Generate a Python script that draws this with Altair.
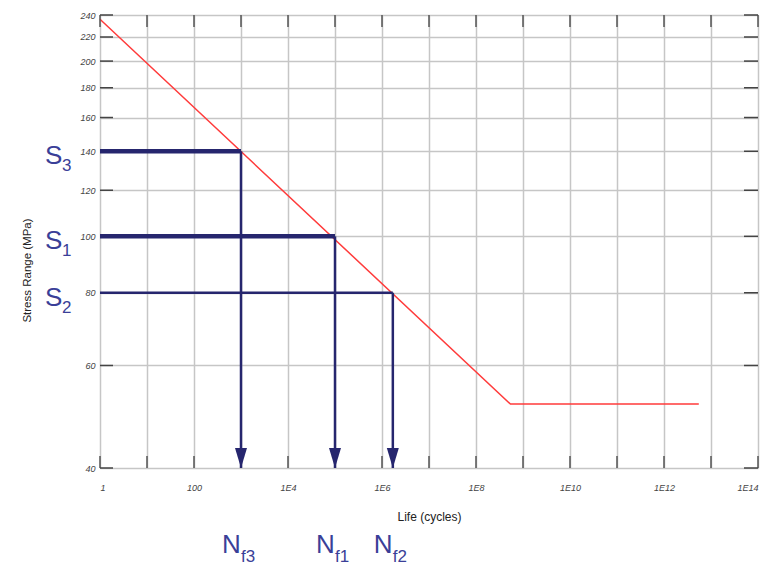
import altair as alt
import pandas as pd

# ---- data ----
curve_life = [1, 5.4e8, 5.5e12]
curve_stress = [236, 51.5, 51.5]

level_names = ["3", "1", "2"]
level_stress = [140, 100, 80]
level_life = [1000, 1.0e5, 1.7e6]
level_width = [4.5, 4.5, 2.5]

x_decades = [10 ** k for k in range(0, 15)]
y_ticks = [40, 60, 80, 100, 120, 140, 160, 180, 200, 220, 240]

W, H = 658, 453
NAVY = "#26266e"
LBL = "#3a3f98"

curve = pd.DataFrame({"N": curve_life, "S": curve_stress})
levels = pd.DataFrame({
    "name": level_names, "S": level_stress, "N": level_life,
    "w": level_width, "N0": [1] * 3, "S0": [40] * 3,
    "Sname": ["S"] * 3, "Nname": ["N"] * 3, "fsub": ["f" + n for n in level_names],
})
xt = pd.DataFrame({"N": x_decades})
yt = pd.DataFrame({"S": y_ticks})

xscale = alt.Scale(type="log", domain=[1, 1e14], nice=False)
yscale = alt.Scale(type="log", domain=[40, 240], nice=False)

label_expr = ("datum.value == 1 ? '1' : datum.value == 100 ? '100' : "
              "(round(log(datum.value)/LN10) % 2 == 0 ? '1E' + round(log(datum.value)/LN10) : '')")

x_axis = alt.Axis(values=x_decades, labelExpr=label_expr, ticks=False, domain=False,
                  grid=True, gridColor="#c6c6c6", gridWidth=1.5,
                  labelFontSize=9, labelFontStyle="italic", labelColor="#444",
                  labelPadding=15, title="Life (cycles)", titleFontSize=12,
                  titleFontWeight="normal", titleColor="#222", titlePadding=19,
                  labelFlush=True, labelOverlap=False)
y_axis = alt.Axis(values=y_ticks, format="d", ticks=False, domain=False,
                  grid=True, gridColor="#c6c6c6", gridWidth=1.5,
                  labelFontSize=9, labelFontStyle="italic", labelColor="#444",
                  labelPadding=5, title="Stress Range (MPa)", titleFontSize=11.5,
                  titleFontWeight="normal", titleColor="#222",
                  titleX=-68, titleY=255, titleAngle=270,
                  labelFlush=False, labelOverlap=False)

red = alt.Chart(curve).mark_line(color="#ff3b3b", strokeWidth=1.5).encode(
    x=alt.X("N:Q", scale=xscale, axis=x_axis),
    y=alt.Y("S:Q", scale=yscale, axis=y_axis),
)

tick_bot = alt.Chart(xt).mark_rule(color="#555", strokeWidth=1.5).encode(
    x=alt.X("N:Q", scale=xscale), y=alt.value(H), y2=alt.value(H - 12))
tick_top = alt.Chart(xt).mark_rule(color="#555", strokeWidth=1.5).encode(
    x=alt.X("N:Q", scale=xscale), y=alt.value(0), y2=alt.value(12))
tick_left = alt.Chart(yt).mark_rule(color="#444", strokeWidth=1.5).encode(
    y=alt.Y("S:Q", scale=yscale), x=alt.value(0), x2=alt.value(13))
tick_right = alt.Chart(yt).mark_rule(color="#444", strokeWidth=1.5).encode(
    y=alt.Y("S:Q", scale=yscale), x=alt.value(W - 14), x2=alt.value(W))

horiz = alt.Chart(levels).mark_rule(color=NAVY).encode(
    x=alt.X("N0:Q", scale=xscale), x2="N:Q",
    y=alt.Y("S:Q", scale=yscale),
    strokeWidth=alt.StrokeWidth("w:Q", scale=None, legend=None),
)
vert = alt.Chart(levels).mark_rule(color=NAVY, strokeWidth=2.5).encode(
    x=alt.X("N:Q", scale=xscale),
    y=alt.Y("S:Q", scale=yscale), y2="S0:Q",
)
heads = alt.Chart(levels).mark_point(
    shape="M-0.6,-1L0.6,-1L0,1Z", filled=True, color=NAVY, opacity=1,
    size=400, yOffset=-10,
).encode(x=alt.X("N:Q", scale=xscale), y=alt.Y("S0:Q", scale=yscale))

s_big = alt.Chart(levels).mark_text(
    align="left", baseline="alphabetic", fontSize=26, color=LBL, font="Liberation Sans",
    dy=13,
).encode(x=alt.value(-55), y=alt.Y("S:Q", scale=yscale), text="Sname:N")
s_sub = alt.Chart(levels).mark_text(
    align="left", baseline="alphabetic", fontSize=17, color=LBL, font="Liberation Sans",
    dy=20,
).encode(x=alt.value(-38), y=alt.Y("S:Q", scale=yscale), text="name:N")

n_big = alt.Chart(levels).mark_text(
    align="left", baseline="alphabetic", fontSize=26, color=LBL, font="Liberation Sans",
    dx=-19,
).encode(x=alt.X("N:Q", scale=xscale), y=alt.value(H + 85), text="Nname:N")
n_sub = alt.Chart(levels).mark_text(
    align="left", baseline="alphabetic", fontSize=17, color=LBL, font="Liberation Sans",
    dx=0,
).encode(x=alt.X("N:Q", scale=xscale), y=alt.value(H + 94), text="fsub:N")

chart = alt.layer(
    red, tick_bot, tick_top, tick_left, tick_right, horiz, vert, heads,
    s_big, s_sub, n_big, n_sub,
).properties(
    width=W, height=H,
    autosize=alt.AutoSizeParams(type="none"),
    padding={"left": 92, "top": 7, "right": 7, "bottom": 98},
).configure_view(
    fill="#e0e0e0", stroke="#555", strokeWidth=1.5,
).configure(font="Liberation Sans")

chart.save("out.html", embed_options={"renderer": "svg", "actions": False})
